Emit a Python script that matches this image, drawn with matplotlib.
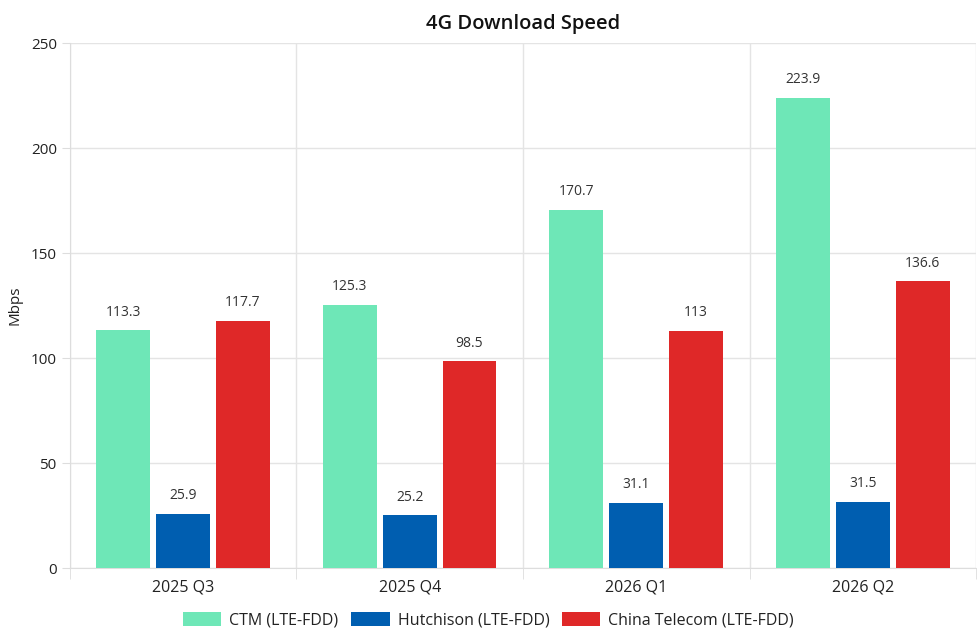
import numpy as np
import matplotlib
matplotlib.use("Agg")
import matplotlib.pyplot as plt

plt.rcParams['font.family'] = ['Open Sans', 'DejaVu Sans']

quarters = ['2025 Q3', '2025 Q4', '2026 Q1', '2026 Q2']
ctm = [113.3, 125.3, 170.7, 223.9]
hutchison = [25.9, 25.2, 31.1, 31.5]
telecom = [117.7, 98.5, 113, 136.6]

series_names = ['CTM (LTE-FDD)', 'Hutchison (LTE-FDD)', 'China Telecom (LTE-FDD)']
colors = ['#6EE7B7', '#005EB0', '#DF2828']

fig = plt.figure(figsize=(9.77, 6.38), dpi=100)
ax = fig.add_axes([0.0716, 0.1097, 0.9274, 0.8229])

x = np.arange(len(quarters))
width = 0.238
step = 0.264

for k, (vals, name, col) in enumerate(zip([ctm, hutchison, telecom], series_names, colors)):
    pos = x + (k - 1) * step
    bars = ax.bar(pos, vals, width, color=col, label=name, zorder=3)
    for b, v in zip(bars, vals):
        ax.text(b.get_x() + b.get_width() / 2, v + 5, f'{v:g}',
                ha='center', va='bottom', fontsize=10, color='#333333')

ax.set_xlim(-0.5, len(quarters) - 0.5)
ax.set_ylim(0, 250)
ax.set_yticks(range(0, 251, 50))
ax.set_xticks(x)
ax.set_xticklabels(quarters)
ax.set_xticks(np.arange(-0.5, len(quarters), 1), minor=True)

ax.grid(axis='y', color='#e4e4e4', linewidth=1, zorder=0)
ax.grid(axis='x', which='minor', color='#e4e4e4', linewidth=1, zorder=0)
ax.tick_params(axis='x', which='major', length=0, labelsize=11.5, colors='#222222', pad=8)
ax.tick_params(axis='x', which='minor', length=8, color='#dddddd')
ax.tick_params(axis='y', length=6, color='#dddddd', labelsize=11, labelcolor='#222222')

for side in ['top', 'right']:
    ax.spines[side].set_visible(False)
ax.spines['left'].set_color('#dddddd')
ax.spines['bottom'].set_color('#dddddd')

ax.set_ylabel('Mbps', fontsize=11, color='#222222', labelpad=6)
ax.set_title('4G Download Speed', fontsize=14.5, fontweight='semibold', color='#111111', pad=10)

h, l = ax.get_legend_handles_labels()
fig.legend(h, l, loc='center', bbox_to_anchor=(0.5, 0.028), ncol=3, frameon=False,
           fontsize=11.5, handlelength=2.4, handleheight=0.95, columnspacing=0.8,
           handletextpad=0.5, labelcolor='#222222')

fig.savefig('out.png', dpi=100)
